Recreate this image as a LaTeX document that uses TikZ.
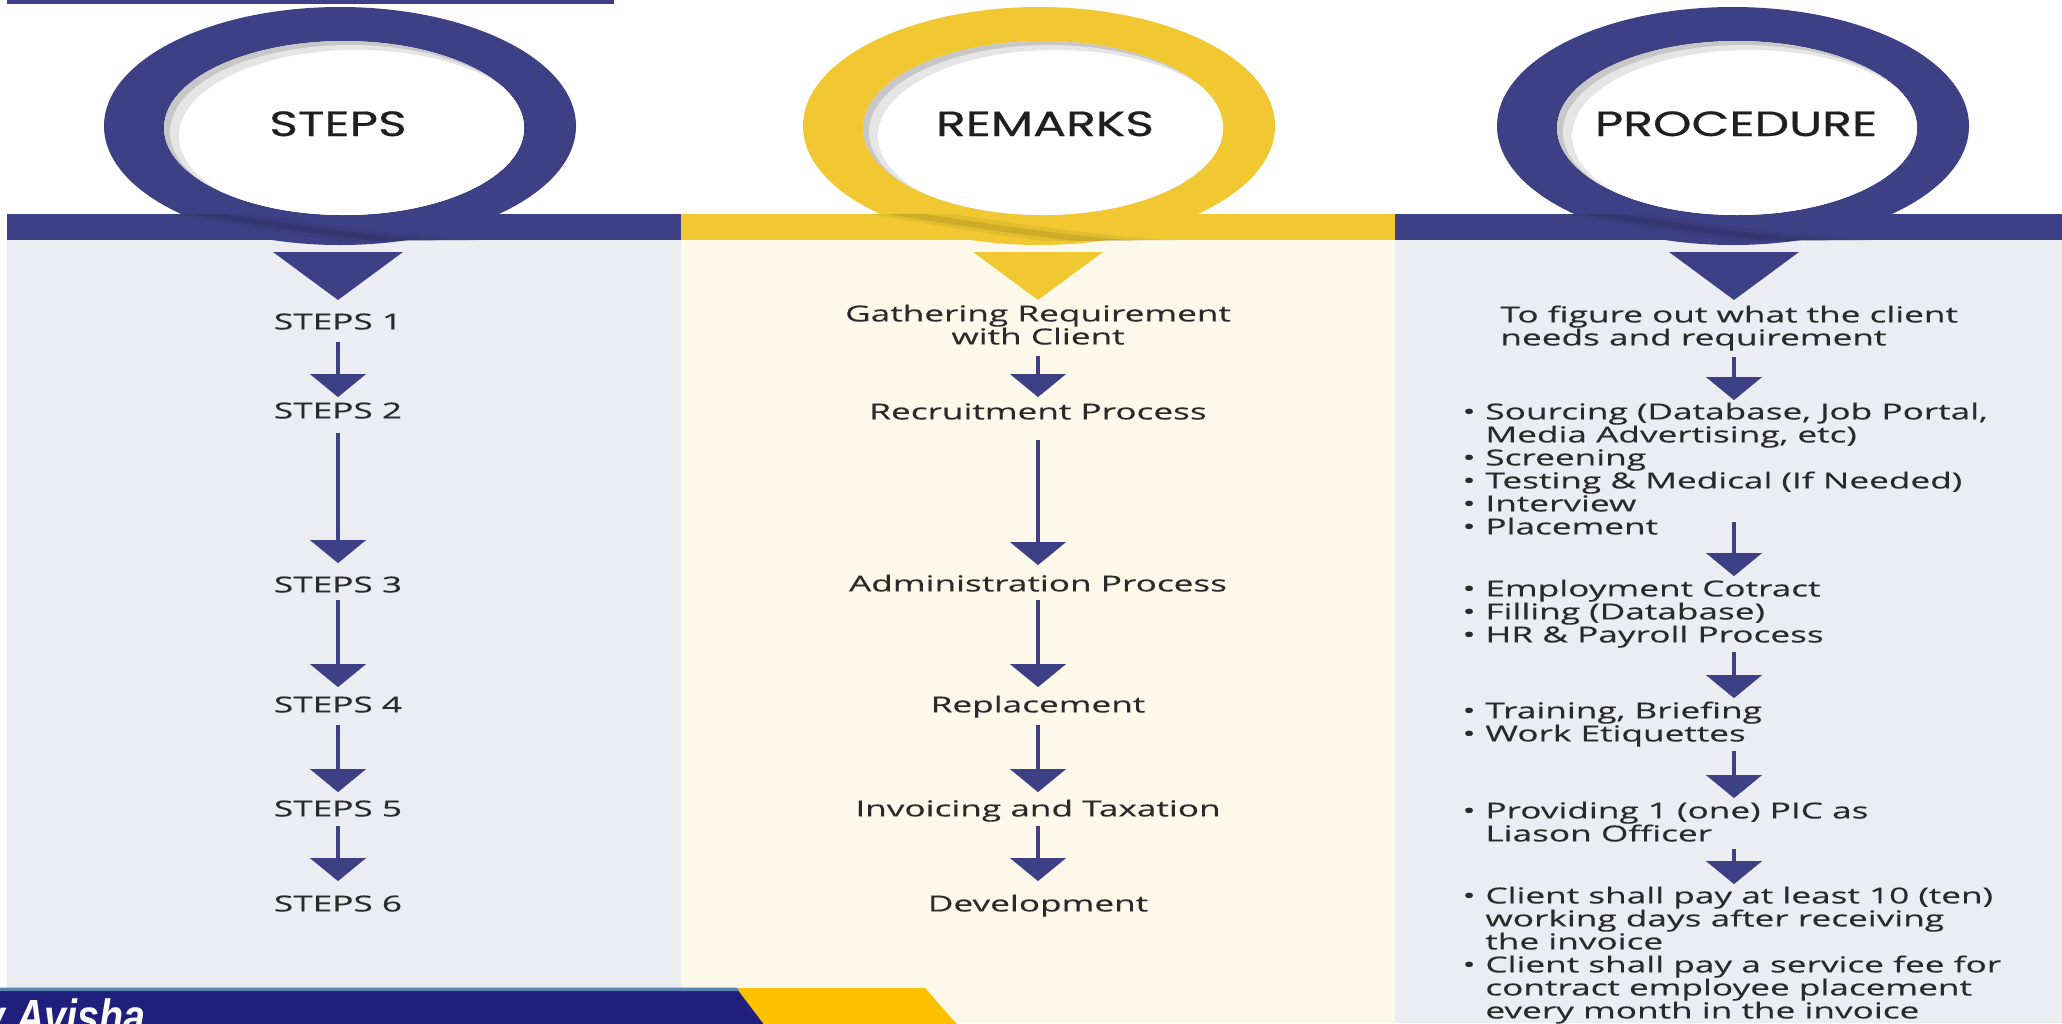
\documentclass[tikz,border=0pt]{standalone}
\usepackage{fontspec}
\usetikzlibrary{arrows.meta,calc}
\newfontfamily\bodyfont[FakeStretch=1.6,FakeBold=0.3]{Open Sans}
\newfontfamily\hdfont[FakeStretch=1.4,FakeBold=0.6]{Poppins}
\newfontfamily\signfont[FakeStretch=0.82]{Liberation Sans}
\definecolor{navy}{RGB}{62,64,134}
\definecolor{gold}{RGB}{242,200,50}
\definecolor{lav}{RGB}{236,236,243}
\definecolor{cream}{RGB}{253,249,234}
\definecolor{txt}{RGB}{42,42,42}
\definecolor{bnavy}{RGB}{32,31,126}
\definecolor{byellow}{RGB}{255,192,0}
\definecolor{bline}{RGB}{90,134,176}
\newcommand{\fl}{\rule{0pt}{9.5pt}}
\newcommand{\bl}{\makebox[11.5pt][l]{•}}
\newcommand{\ind}{\hspace*{11.5pt}}
\begin{document}
\begin{tikzpicture}[x=0.5pt,y=-0.5pt,
  body/.style={font=\bodyfont\fontsize{11}{11.5}\selectfont, text=txt, inner sep=0pt, anchor=north},
  bodyc/.style={body, align=center},
  bodyl/.style={body, anchor=north west, align=left},
  head/.style={font=\hdfont\fontsize{17.5}{20}\selectfont, text=black!88, inner sep=0pt, anchor=base},
  arr/.style={draw=navy, line width=2.4pt, -{Triangle[width=28pt,length=11.5pt,line width=0.01pt]}},
  sign/.style={font=\signfont\bfseries\itshape\fontsize{24}{26}\selectfont, text=white, inner sep=0pt, anchor=base west}]
\useasboundingbox (0,0) rectangle (2062,1023);
\clip (0,0) rectangle (2062,1023);
\fill[white] (0,0) rectangle (2062,1023);
% top line
\fill[navy] (7,0) rectangle (614,3.5);
% column backgrounds
\fill[lav] (7,240) rectangle (681,1023);
\fill[cream] (681,240) rectangle (1395,1023);
\fill[lav] (1395,240) rectangle (2062,1023);
% band
\fill[navy] (7,214) rectangle (681,240);
\fill[gold] (681,214) rectangle (1395,240);
\fill[navy] (1395,214) rectangle (2062,240);
% rings
\foreach \cx/\col in {340/navy,1039/gold,1733/navy}{
  \fill[\col, even odd rule] (\cx,126) ellipse [x radius=236, y radius=119]
        (\cx+4,128) ellipse [x radius=180, y radius=87];
  \begin{scope}
    \clip (\cx+4,128) ellipse [x radius=180, y radius=87];
    \fill[black!22] (\cx+4,128) ellipse [x radius=180, y radius=87];
    \fill[black!10] (\cx+10,132) ellipse [x radius=180, y radius=87];
    \fill[white] (\cx+17,136) ellipse [x radius=178, y radius=86];
  \end{scope}
  \begin{scope}
    \clip (\cx-250,214) rectangle (\cx+250,240);
    \draw[\col!55!black, line width=7pt, opacity=0.12] (\cx-175,206) .. controls (\cx-60,226) and (\cx+30,240) .. (\cx+140,248);
    \draw[\col!55!black, line width=3pt, opacity=0.22] (\cx-170,208) .. controls (\cx-60,226) and (\cx+30,240) .. (\cx+130,246);
  \end{scope}
}
% headers
\node[head] (h1) at (338,136) {STEPS};
\node[head] (h2) at (1045,136) {REMARKS};
\node[head] (h3) at (1736,136) {PROCEDURE};
% column centres and big triangles
\coordinate (c1) at (338,0);
\coordinate (c2) at (1038,0);
\coordinate (c3) at (1734,0);
\fill[navy] (273,252) -- (403,252) -- (338,300) -- cycle;
\fill[gold] (973,252) -- (1103,252) -- (1038,300) -- cycle;
\fill[navy] (1669,252) -- (1799,252) -- (1734,300) -- cycle;
% steps column
\node[bodyc] (s1) at (338,310) {\fl STEPS 1};
\node[bodyc] (s2) at (338,399) {\fl STEPS 2};
\node[bodyc] (s3) at (338,573) {\fl STEPS 3};
\node[bodyc] (s4) at (338,693) {\fl STEPS 4};
\node[bodyc] (s5) at (338,797) {\fl STEPS 5};
\node[bodyc] (s6) at (338,892) {\fl STEPS 6};
\draw[arr] ($(s1.north)+(0,32)$) -- ($(s2.north)+(0,-2)$);
\draw[arr] ($(s2.north)+(0,34)$) -- ($(s3.north)+(0,-10)$);
\draw[arr] ($(s3.north)+(0,27)$) -- ($(s4.north)+(0,-6)$);
\draw[arr] ($(s4.north)+(0,32)$) -- ($(s5.north)+(0,-5)$);
\draw[arr] ($(s5.north)+(0,29)$) -- ($(s6.north)+(0,-11)$);
% remarks column
\node[bodyc] (r1) at (1038,302) {\fl Gathering Requirement\\with Client};
\node[bodyc] (r2) at (1038,400) {\fl Recruitment Process};
\node[bodyc] (r3) at (1038,572) {\fl Administration Process};
\node[bodyc] (r4) at (1038,693) {\fl Replacement};
\node[bodyc] (r5) at (1038,797) {\fl Invoicing and Taxation};
\node[bodyc] (r6) at (1038,892) {\fl Development};
\draw[arr] ($(r1.north)+(0,54)$) -- ($(r2.north)+(0,-3)$);
\draw[arr] ($(r2.north)+(0,40)$) -- ($(r3.north)+(0,-7)$);
\draw[arr] ($(r3.north)+(0,28)$) -- ($(r4.north)+(0,-6)$);
\draw[arr] ($(r4.north)+(0,32)$) -- ($(r5.north)+(0,-5)$);
\draw[arr] ($(r5.north)+(0,29)$) -- ($(r6.north)+(0,-11)$);
% procedure column
\node[bodyl] (p1) at (1500,303) {\fl To figure out what the client\\needs and requirement};
\node[bodyl] (p2) at (1462,400) {\fl\bl Sourcing (Database, Job Portal,\\\ind Media Advertising, etc)\\\bl Screening\\\bl Testing \& Medical (If Needed)\\\bl Interview\\\bl Placement};
\node[bodyl] (p3) at (1462,577) {\fl\bl Employment Cotract\\\bl Filling (Database)\\\bl HR \& Payroll Process};
\node[bodyl] (p4) at (1462,699) {\fl\bl Training, Briefing\\\bl Work Etiquettes};
\node[bodyl] (p5) at (1462,799) {\fl\bl Providing 1 (one) PIC as\\\ind Liason Officer};
\node[bodyl] (p6) at (1462,884) {\fl\bl Client shall pay at least 10 (ten)\\\ind working days after receiving\\\ind the invoice\\\bl Client shall pay a service fee for\\\ind contract employee placement\\\ind every month in the invoice};
\draw[arr] ($(p1.north -| c3)+(0,54)$) -- ($(p2.north -| c3)+(0,0)$);
\draw[arr] ($(p2.north -| c3)+(0,122)$) -- ($(p3.north -| c3)+(0,-1)$);
\draw[arr] ($(p3.north -| c3)+(0,75)$) -- ($(p4.north -| c3)+(0,-1)$);
\draw[arr] ($(p4.north -| c3)+(0,52)$) -- ($(p5.north -| c3)+(0,-1)$);
\draw[arr] ($(p5.north -| c3)+(0,50)$) -- ($(p6.north -| c3)+(0,0)$);
% bottom banner
\fill[byellow] (560,988) -- (925,988) -- (962,1030) -- (560,1030) -- cycle;
\fill[bnavy] (0,989) -- (737,989) -- (768,1030) -- (0,1030) -- cycle;
\fill[bline] (0,987.5) -- (737,987.5) -- (739,991) -- (0,991) -- cycle;
\node[sign] (sig) at (-17,1033) {y Avisha};
\end{tikzpicture}
\end{document}
